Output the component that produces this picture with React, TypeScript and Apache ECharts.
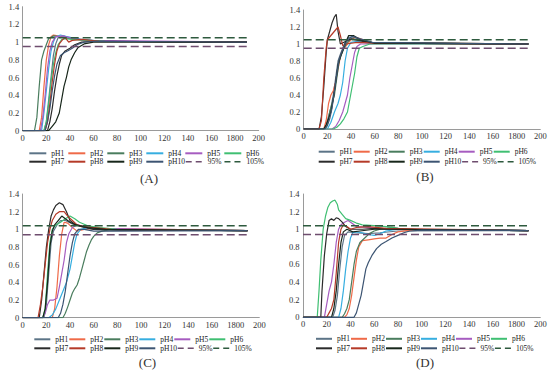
import React, { useEffect, useRef } from "react";
import * as echarts from "echarts";

// ---------- data ----------
const seriesNames = ["pH1", "pH2", "pH3", "pH4", "pH5", "pH6", "pH7", "pH8", "pH9", "pH10"];
const refNames = ["95%", "105%"];
const xTickLabels = ["0", "20", "40", "60", "80", "100", "120", "140", "160", "1800", "200"];
const captions = ["(A)", "(B)", "(C)", "(D)"];

// reference lines per panel [95%, 105%]
const refA = [0.95, 1.05];
const refB = [0.95, 1.05];
const refC = [0.94, 1.04];
const refD = [0.94, 1.04];
const refEndX = [0, 190];

// Panel A curves ([time, value])
const A_pH1 = [[0,0],[18,0],[20,0.1],[22,0.35],[24,0.6],[26,0.85],[28,0.98],[30,1.05],[34,1.07],[40,1.05],[50,1.03],[60,1.02],[80,1.01],[190,1.0]];
const A_pH2 = [[0,0],[14,0],[16,0.15],[18,0.5],[20,0.8],[22,0.97],[24,1.06],[26,1.08],[30,1.07],[36,1.05],[45,1.03],[60,1.01],[190,1.0]];
const A_pH3 = [[0,0],[10,0],[12,0.15],[14,0.5],[16,0.8],[18,0.9],[20,0.97],[22,1.04],[26,1.07],[32,1.06],[40,1.04],[55,1.02],[70,1.01],[190,1.0]];
const A_pH4 = [[0,0],[16,0],[18,0.2],[20,0.45],[22,0.7],[24,0.9],[26,1.0],[28,1.06],[32,1.08],[38,1.06],[50,1.03],[65,1.01],[190,1.0]];
const A_pH5 = [[0,0],[15,0],[17,0.15],[19,0.4],[21,0.7],[23,0.9],[25,1.0],[28,1.06],[34,1.07],[42,1.04],[55,1.02],[190,1.0]];
const A_pH6 = [[0,0],[18,0],[20,0.1],[22,0.3],[24,0.55],[26,0.75],[28,0.88],[30,0.97],[33,1.03],[36,1.04],[42,1.03],[55,1.02],[70,1.01],[190,1.0]];
const A_pH7 = [[0,0],[21,0],[23,0.1],[25,0.25],[27,0.45],[29,0.62],[31,0.75],[33,0.85],[36,0.9],[40,0.93],[44,0.97],[50,1.0],[60,1.01],[190,1.0]];
const A_pH8 = [[0,0],[19,0],[21,0.1],[23,0.3],[25,0.55],[27,0.75],[29,0.9],[31,0.98],[34,1.03],[36,1.05],[39,1.0],[42,1.02],[50,1.03],[65,1.01],[190,1.0]];
const A_pH9 = [[0,0],[22,0],[25,0.05],[28,0.1],[31,0.2],[33,0.35],[35,0.5],[37,0.6],[39,0.72],[41,0.8],[44,0.88],[47,0.94],[52,0.98],[60,1.0],[190,1.0]];
const A_pH10 = [[0,0],[19,0],[21,0.1],[23,0.25],[25,0.45],[27,0.62],[29,0.75],[32,0.85],[35,0.88],[38,0.9],[42,0.93],[46,0.97],[52,1.0],[60,1.01],[190,1.0]];

// Panel B curves
const B_pH1 = [[0,0],[17,0],[19,0.05],[21,0.15],[23,0.25],[25,0.4],[27,0.6],[29,0.8],[31,0.88],[33,0.95],[35,1.02],[38,1.08],[42,1.08],[50,1.04],[60,1.01],[190,1.0]];
const B_pH2 = [[0,0],[17,0],[19,0.1],[21,0.3],[23,0.4],[25,0.45],[27,0.55],[29,0.7],[31,0.85],[33,0.93],[36,0.98],[40,1.05],[44,1.08],[48,1.06],[55,1.02],[190,1.0]];
const B_pH3 = [[0,0],[18,0],[20,0.05],[22,0.2],[24,0.3],[26,0.4],[28,0.6],[30,0.8],[32,0.88],[34,0.95],[37,1.02],[40,1.06],[46,1.05],[55,1.02],[190,1.0]];
const B_pH4 = [[0,0],[20,0],[23,0.08],[26,0.2],[29,0.3],[31,0.4],[33,0.55],[35,0.8],[37,0.95],[40,1.02],[45,1.03],[55,1.01],[190,1.0]];
const B_pH5 = [[0,0],[24,0],[27,0.03],[30,0.1],[33,0.2],[35,0.3],[37,0.4],[39,0.6],[41,0.75],[43,0.9],[45,0.97],[48,1.0],[190,1.0]];
const B_pH6 = [[0,0],[25,0],[28,0.02],[31,0.06],[34,0.12],[37,0.2],[39,0.35],[41,0.5],[43,0.65],[45,0.85],[47,0.95],[50,0.97],[56,1.0],[190,1.0]];
const B_pH7 = [[0,0],[13,0],[15,0.15],[17,0.5],[19,0.9],[20,1.05],[22,1.15],[24,1.25],[26,1.32],[27.5,1.35],[29,1.15],[31,1.0],[34,1.02],[40,1.06],[50,1.03],[60,1.01],[190,1.0]];
const B_pH8 = [[0,0],[13,0],[15,0.1],[17,0.6],[19,0.95],[20,1.05],[23,1.1],[26,1.15],[29,1.2],[31,1.1],[33,0.98],[36,1.0],[45,1.02],[60,1.01],[190,1.0]];
const B_pH9 = [[0,0],[17,0],[19,0.05],[21,0.12],[23,0.2],[25,0.35],[27,0.55],[29,0.75],[31,0.85],[33,0.92],[35,1.0],[38,1.1],[42,1.1],[48,1.05],[60,1.01],[190,1.0]];
const B_pH10 = [[0,0],[18,0],[20,0.04],[22,0.12],[24,0.25],[26,0.45],[28,0.65],[30,0.82],[32,0.9],[34,0.97],[37,1.05],[41,1.09],[48,1.06],[58,1.02],[190,1.0]];

// Panel C curves
const C_pH1 = [[0,0],[18,0],[20,0.15],[22,0.5],[24,0.85],[26,0.98],[29,1.05],[32,1.1],[36,1.1],[42,1.06],[50,1.03],[60,1.0],[190,0.985]];
const C_pH2 = [[0,0],[25,0],[27,0.1],[29,0.35],[31,0.7],[33,0.95],[35,1.08],[38,1.07],[42,1.02],[46,0.98],[52,1.0],[60,1.01],[190,0.985]];
const C_pH3 = [[0,0],[34,0],[36,0.05],[38,0.12],[40,0.2],[42,0.28],[44,0.33],[46,0.37],[48,0.45],[50,0.55],[52,0.65],[54,0.75],[56,0.82],[58,0.88],[60,0.92],[63,0.96],[67,0.98],[75,1.0],[190,0.985]];
const C_pH4 = [[0,0],[22,0],[25,0.03],[28,0.1],[31,0.2],[34,0.3],[37,0.4],[40,0.55],[42,0.7],[44,0.85],[46,0.95],[49,1.0],[55,1.02],[65,1.0],[190,0.985]];
const C_pH5 = [[0,0],[17,0],[19,0.05],[21,0.15],[23,0.2],[26,0.2],[29,0.22],[31,0.35],[33,0.5],[35,0.65],[37,0.85],[39,0.95],[42,1.02],[46,1.05],[52,1.03],[60,1.01],[190,0.985]];
const C_pH6 = [[0,0],[17,0],[19,0.1],[21,0.5],[23,0.85],[25,1.0],[28,1.05],[32,1.08],[36,1.12],[40,1.15],[44,1.12],[48,1.08],[55,1.04],[65,1.02],[80,1.0],[190,0.985]];
const C_pH7 = [[0,0],[14,0],[16,0.2],[18,0.5],[20,0.8],[22,1.0],[24,1.15],[26,1.22],[28,1.27],[31,1.3],[34,1.28],[37,1.2],[40,1.1],[45,1.05],[50,1.03],[60,1.0],[80,0.99],[190,0.985]];
const C_pH8 = [[0,0],[13,0],[15,0.15],[17,0.35],[19,0.6],[21,0.85],[23,1.0],[25,1.1],[28,1.17],[31,1.2],[35,1.2],[38,1.15],[42,1.1],[46,1.05],[52,1.03],[60,1.02],[75,1.0],[190,0.985]];
const C_pH9 = [[0,0],[17,0],[19,0.1],[21,0.4],[23,0.8],[25,0.98],[27,1.05],[30,1.1],[33,1.15],[36,1.12],[40,1.08],[45,1.05],[55,1.02],[70,1.0],[190,0.985]];
const C_pH10 = [[0,0],[30,0],[32,0.05],[34,0.15],[36,0.3],[38,0.5],[40,0.7],[42,0.85],[44,0.95],[47,1.0],[52,1.0],[60,0.98],[70,0.98],[190,0.985]];

// Panel D curves
const D_pH1 = [[0,0],[25,0],[27,0.08],[29,0.25],[31,0.55],[33,0.8],[35,0.93],[38,0.97],[44,0.96],[55,0.95],[65,0.96],[80,0.98],[190,0.985]];
const D_pH2 = [[0,0],[35,0],[37,0.03],[39,0.1],[41,0.25],[43,0.45],[45,0.65],[47,0.8],[50,0.87],[55,0.88],[60,0.89],[65,0.9],[70,0.9],[75,0.94],[80,0.97],[90,0.99],[190,0.985]];
const D_pH3 = [[0,0],[33,0],[35,0.04],[37,0.1],[39,0.2],[41,0.4],[43,0.6],[45,0.75],[48,0.85],[52,0.9],[56,0.95],[60,0.98],[65,1.0],[75,1.02],[85,1.0],[190,0.985]];
const D_pH4 = [[0,0],[30,0],[32,0.1],[34,0.3],[36,0.55],[38,0.75],[40,0.9],[42,0.96],[45,0.97],[50,0.96],[55,0.94],[60,0.93],[65,0.95],[70,0.98],[80,1.0],[190,0.985]];
const D_pH5 = [[0,0],[18,0],[20,0.15],[22,0.3],[24,0.4],[26,0.6],[28,0.85],[30,1.0],[32,1.05],[35,1.08],[38,1.1],[41,1.07],[45,1.03],[55,1.02],[70,1.0],[190,0.985]];
const D_pH6 = [[0,0],[12,0],[13.5,0.3],[15,0.65],[17,1.0],[19,1.15],[21,1.25],[23,1.3],[25,1.32],[27,1.33],[29,1.28],[30,1.22],[33,1.17],[36,1.12],[40,1.1],[45,1.07],[50,1.05],[60,1.04],[70,1.03],[80,1.01],[100,0.99],[190,0.985]];
const D_pH7 = [[0,0],[15,0],[16,0.3],[18,0.7],[20,0.95],[22,1.1],[24,1.12],[26,1.1],[28,1.13],[30,1.12],[33,1.08],[36,1.03],[40,1.0],[50,1.0],[60,1.01],[80,1.0],[190,0.985]];
const D_pH8 = [[0,0],[20,0],[22,0.05],[24,0.1],[26,0.2],[28,0.5],[30,0.85],[32,1.0],[34,1.05],[37,1.03],[40,1.0],[45,1.02],[55,1.03],[70,1.01],[190,0.985]];
const D_pH9 = [[0,0],[24,0],[26,0.1],[28,0.3],[30,0.6],[32,0.85],[34,0.97],[37,1.0],[42,0.97],[48,0.98],[60,1.0],[80,1.0],[190,0.985]];
const D_pH10 = [[0,0],[43,0],[45,0.05],[47,0.15],[49,0.25],[51,0.4],[53,0.55],[55,0.62],[58,0.7],[62,0.78],[66,0.83],[70,0.86],[75,0.9],[80,0.93],[85,0.96],[90,0.98],[100,0.99],[190,0.985]];

const panelCurves = [
  [A_pH1, A_pH2, A_pH3, A_pH4, A_pH5, A_pH6, A_pH7, A_pH8, A_pH9, A_pH10],
  [B_pH1, B_pH2, B_pH3, B_pH4, B_pH5, B_pH6, B_pH7, B_pH8, B_pH9, B_pH10],
  [C_pH1, C_pH2, C_pH3, C_pH4, C_pH5, C_pH6, C_pH7, C_pH8, C_pH9, C_pH10],
  [D_pH1, D_pH2, D_pH3, D_pH4, D_pH5, D_pH6, D_pH7, D_pH8, D_pH9, D_pH10],
];
const panelRefs = [refA, refB, refC, refD];

// ---------- styling ----------
const COLORS = ["#5c7487", "#ef6a48", "#4a7d5e", "#36aee0", "#a65cc0", "#3fbf72", "#2b2b2b", "#b53a28", "#17261a", "#3c5472"];
const REF_COLORS = ["#6e4d6e", "#2e5a3e"];
const FONT = "Liberation Serif";

const grids = [
  { left: 22.7, top: 6.7, width: 236, height: 124 },
  { left: 303.7, top: 10, width: 236.6, height: 119 },
  { left: 22.7, top: 194, width: 236.6, height: 123.7 },
  { left: 303, top: 194, width: 237.3, height: 123.3 },
];
const legendPos = [
  { left: 28.3, top1: 149.3, top2: 157.7, col: 38.0, iw: 17 },
  { left: 317.7, top1: 147.7, top2: 157.7, col: 34.0, iw: 16 },
  { left: 33.3, top1: 335.3, top2: 344.3, col: 34.0, iw: 16 },
  { left: 315, top1: 334.8, top2: 344.3, col: 34.0, iw: 16 },
];
const captionPos = [
  { x: 149, y: 178.3 },
  { x: 425, y: 176.5 },
  { x: 147.5, y: 362.3 },
  { x: 425, y: 362.3 },
];

export default function App() {
  const ref = useRef<HTMLDivElement>(null);
  useEffect(() => {
    if (!ref.current) return;
    const chart = echarts.init(ref.current, null, { renderer: "svg" });

    const xAxis: any[] = [];
    const yAxis: any[] = [];
    const series: any[] = [];
    const legend: any[] = [];
    const graphic: any[] = [];

    grids.forEach((g, p) => {
      xAxis.push({
        type: "value",
        gridIndex: p,
        min: 0,
        max: 200,
        interval: 20,
        axisLine: { show: true, lineStyle: { color: "#9a9a9a", width: 1 } },
        axisTick: { show: false },
        splitLine: { show: false },
        axisLabel: {
          color: "#333",
          fontFamily: FONT,
          fontSize: 8.5,
          margin: 2.5,
          formatter: (v: number) => xTickLabels[Math.round(v / 20)] ?? String(v),
        },
      });
      yAxis.push({
        type: "value",
        gridIndex: p,
        min: 0,
        max: 1.4,
        interval: 0.2,
        axisLine: { show: true, lineStyle: { color: "#9a9a9a", width: 1 } },
        axisTick: { show: false },
        splitLine: { show: false },
        axisLabel: {
          color: "#333",
          fontFamily: FONT,
          fontSize: 8.5,
          margin: 3.5,
          formatter: (v: number) => String(Math.round(v * 10) / 10),
        },
      });
      panelCurves[p].forEach((data, i) => {
        series.push({
          type: "line",
          name: seriesNames[i],
          xAxisIndex: p,
          yAxisIndex: p,
          data,
          symbol: "none",
          showSymbol: false,
          silent: true,
          color: COLORS[i],
          lineStyle: { color: COLORS[i], width: 1.2 },
        });
      });
      panelRefs[p].forEach((v, j) => {
        series.push({
          type: "line",
          name: refNames[j],
          xAxisIndex: p,
          yAxisIndex: p,
          data: refEndX.map((x) => [x, v]),
          symbol: "none",
          showSymbol: false,
          silent: true,
          color: REF_COLORS[j],
          lineStyle: { color: REF_COLORS[j], width: 1.5, type: [8, 4] },
        });
      });
      const lp = legendPos[p];
      const common = {
        orient: "horizontal",
        left: lp.left,
        padding: 0,
        itemWidth: lp.iw,
        itemHeight: 8,
        itemGap: 0,
        selectedMode: false,
        itemStyle: { opacity: 0 },
        textStyle: {
          fontFamily: FONT,
          fontSize: 7.5,
          color: "#222",
          lineHeight: 8,
          width: lp.col - lp.iw - 5,
          overflow: "none",
        },
      };
      legend.push({ ...common, top: lp.top1, data: seriesNames.slice(0, 6) });
      legend.push({
        ...common,
        top: lp.top2,
        data: [
          ...seriesNames.slice(6),
          ...refNames.map((n) => ({ name: n, lineStyle: { type: [6, 4], width: 1.5 } })),
        ],
      });
      graphic.push({
        type: "text",
        x: captionPos[p].x,
        y: captionPos[p].y,
        style: {
          text: captions[p],
          fontFamily: FONT,
          fontSize: 13,
          fill: "#333",
          textAlign: "center",
          textVerticalAlign: "middle",
        },
      });
    });

    chart.setOption({
      animation: false,
      backgroundColor: "#ffffff",
      grid: grids.map((g) => ({ ...g, containLabel: false })),
      xAxis,
      yAxis,
      series,
      legend,
      graphic,
    });
    return () => chart.dispose();
  }, []);
  return (
    <div
      ref={ref}
      style={{ position: "fixed", left: 0, top: 0, width: 557, height: 372, background: "#fff" }}
    />
  );
}
